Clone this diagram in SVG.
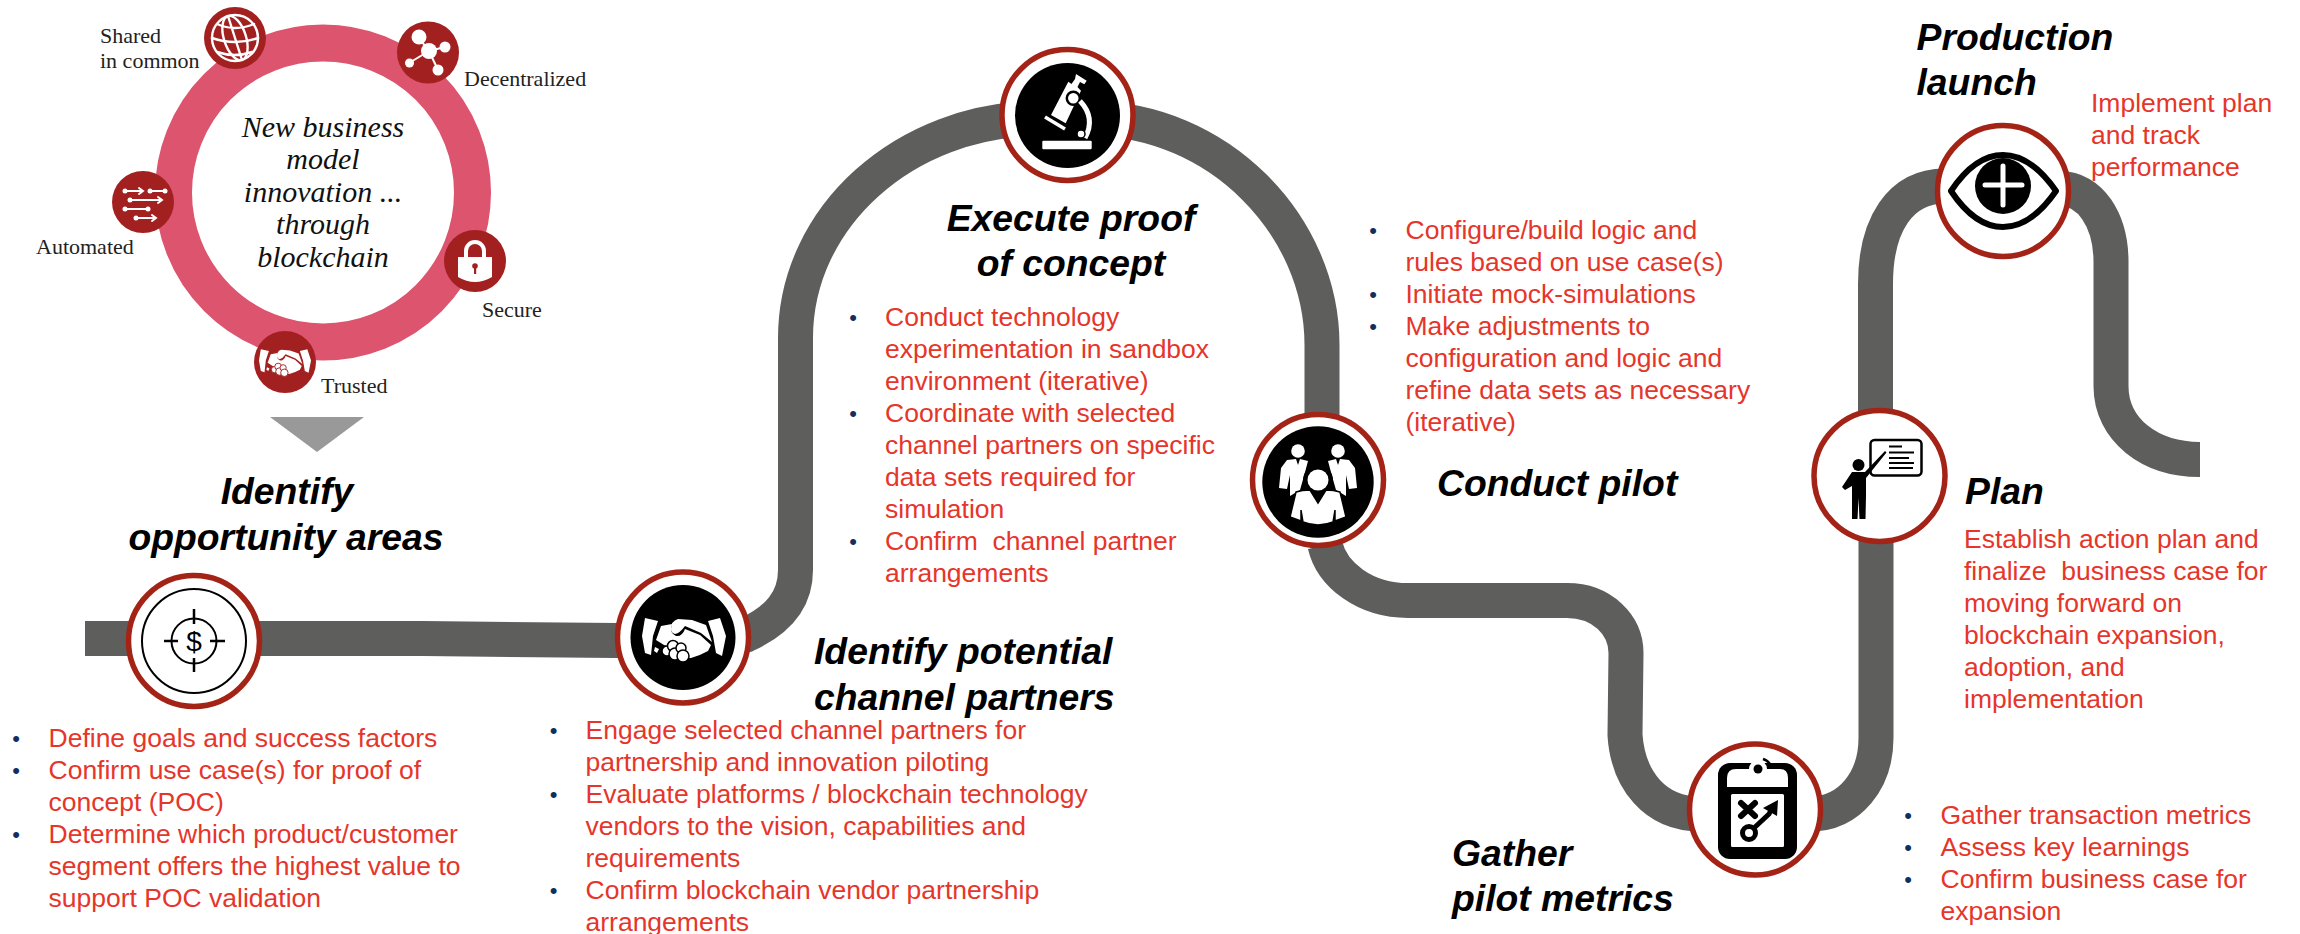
<svg xmlns="http://www.w3.org/2000/svg" xmlns:xlink="http://www.w3.org/1999/xlink" width="2300" height="934" viewBox="0 0 2300 934">
<style>
.road{fill:none;stroke:#5E5E5C;stroke-width:35}
.ring{fill:#fff;stroke:#A32417;stroke-width:5.5}
.disc{fill:#000}
.sdisc{fill:#A32020}
.t{font-family:"Liberation Sans",Arial,sans-serif;font-size:26.5px;fill:#E6352A;transform:translateY(.8px)}
.b{font-family:"Liberation Sans",Arial,sans-serif;font-size:22px;fill:#0F2F5F;text-anchor:middle}
.h{font-family:"Liberation Sans",Arial,sans-serif;font-size:37.3px;font-weight:bold;font-style:italic;fill:#000}
.m{text-anchor:middle}
.s{font-family:"Liberation Serif",Georgia,serif;font-size:22px;fill:#222}
.c{font-family:"Liberation Serif",Georgia,serif;font-size:30px;font-style:italic;fill:#111;text-anchor:middle}
.w{fill:none;stroke:#fff;stroke-linecap:round}
.k{fill:none;stroke:#000}
</style>
<defs>
<g id="shake" fill="#fff">
<path d="M-39-19L-26-16L-31-1L-33 18L-39 16L-42-1Z"/>
<path d="M24-16L36-19L42-1L38 19L32 16L29-1Z"/>
<path d="M-23-11L-12-13Q-15-4-8-1Q-2 0 1-8L16-2L27 8L24 14Q15 19 7 21L0 21L-3 13L-20 8L-28 3Z"/>
<path d="M-13-8Q-13-16-6-18L8-17L22-12L28 5L17-4L1-11Q-4-4-9-3Q-13-4-13-8Z"/>
<path d="M-29 10L-25 12L-27 16L-30 14Z"/>
<g stroke="currentColor" stroke-width="1.5">
<circle cx="-17" cy="14" r="5"/><circle cx="-11" cy="9" r="5.500"/><circle cx="-9" cy="17" r="6"/><circle cx="-3" cy="11" r="5"/><circle cx="-1" cy="19" r="6"/>
</g>
</g>
</defs>

<g id="connectors">
<path class="road" d="M85,638.5H423L617,640.5H683L747,634.5C778,620 795.5,600 795.5,570V338C795.5,217 905,118.5 1040,118.5H1090C1218,118.5 1322,225 1322,345V480"/>
<path class="road" d="M1325,545C1332,575 1365,600.5 1408,600.5H1567C1602,600.5 1626,625 1626,653L1625,735C1628,780 1655,814 1700,814"/>
<path class="road" d="M1810,814C1850,814 1876,780 1876,738V480"/>
<path class="road" d="M1875.5,415V284C1875.5,225 1900,186 1945,186"/>
<path class="road" d="M2060,188.5C2090,188.5 2111,220 2111,262V386C2111,430 2150,459.5 2200,459.5"/>
</g>

<g id="intro-ring">
<circle cx="323" cy="192.5" r="149.5" fill="#fff" stroke="#DC546D" stroke-width="37"/>
<text class="c" x="323" y="137">New business</text>
<text class="c" x="323" y="169">model</text>
<text class="c" x="323" y="202">innovation ...</text>
<text class="c" x="323" y="234">through</text>
<text class="c" x="323" y="267">blockchain</text>
</g>
<g id="shared">
<circle class="sdisc" cx="235" cy="38" r="31"/>
<g class="w" stroke-width="2.4">
<circle cx="235" cy="38" r="23"/>
<ellipse cx="235" cy="38" rx="11" ry="23" transform="rotate(-18 235 38)"/>
<path d="M217 24Q235 32 254 24M212 38Q235 46 258 38M217 52Q235 58 252 52M228 16L242 60"/>
</g>
<text class="s" x="100" y="43">Shared</text>
<text class="s" x="100" y="68">in common</text>
</g>
<g id="decentralized">
<circle class="sdisc" cx="428" cy="52.5" r="31"/>
<path class="w" stroke-width="2" d="M419 38L429 51L445 47M429 51L409 63M429 51L438 70"/>
<g fill="#fff"><circle cx="419" cy="37" r="7.5"/><circle cx="429" cy="51" r="8"/><circle cx="445" cy="47" r="5.5"/><circle cx="409.500" cy="63" r="4.500"/><circle cx="438" cy="70" r="5.500"/></g>
<text class="s" x="464" y="86">Decentralized</text>
</g>
<g id="automated">
<circle class="sdisc" cx="143" cy="202" r="31"/>
<g class="w" stroke-width="2">
<path d="M127 191H143M139 188L143 191L139 194M150 191H166"/>
<path d="M131 200H162M158 197L162 200L158 203"/>
<path d="M127 209H148"/>
<path d="M138 218H156M152 215L156 218L152 221"/>
</g>
<g fill="#fff"><circle cx="125" cy="191" r="2.500"/><circle cx="150" cy="191" r="2.500"/><circle cx="165" cy="191" r="2.500"/><circle cx="130" cy="200" r="2.500"/><circle cx="125" cy="209" r="2.500"/><circle cx="148" cy="209" r="2.500"/><circle cx="136" cy="218" r="2.500"/></g>
<text class="s" x="36" y="254">Automated</text>
</g>
<g id="secure">
<circle class="sdisc" cx="475" cy="261" r="31"/>
<path d="M466 258V251A9 9 0 0 1 484 251V258" fill="none" stroke="#fff" stroke-width="4"/>
<path fill="#fff" d="M458 257H492V277Q475 287 458 277Z"/>
<circle cx="475" cy="266" r="2.800" fill="#A32020"/><rect x="474" y="266" width="2.200" height="8" fill="#A32020"/>
<text class="s" x="482" y="317">Secure</text>
</g>
<g id="trusted">
<circle class="sdisc" cx="285" cy="362" r="31"/>
<use xlink:href="#shake" href="#shake" color="#A32020" transform="translate(285,361) scale(.62)"/>
<text class="s" x="321" y="393">Trusted</text>
</g>
<polygon id="arrow-down" points="270,417 364,417 317,452" fill="#999"/>

<g id="identify-opportunity">
<circle class="ring" cx="194" cy="641" r="65.500"/>
<g class="k" stroke-width="2"><circle cx="194" cy="641" r="52"/><circle cx="194" cy="641" r="22.500"/></g>
<path class="k" stroke-width="2.500" d="M164 641H178M210 641H225M194 609V624M194 658V672"/>
<text x="194" y="651" font-family="Liberation Sans,Arial,sans-serif" font-size="28" text-anchor="middle" fill="#000">$</text>
<text class="h m" x="287" y="504">Identify</text>
<text class="h m" x="286" y="550">opportunity areas</text>
<g>
<text class="b" x="16" y="746">•</text><text class="t" x="48.500" y="746">Define goals and success factors</text>
<text class="b" x="16" y="778">•</text><text class="t" x="48.500" y="778">Confirm use case(s) for proof of</text>
<text class="t" x="48.500" y="810">concept (POC)</text>
<text class="b" x="16" y="842">•</text><text class="t" x="48.500" y="842">Determine which product/customer</text>
<text class="t" x="48.500" y="874">segment offers the highest value to</text>
<text class="t" x="48.500" y="906">support POC validation</text>
</g>
</g>

<g id="identify-partners">
<circle class="ring" cx="683" cy="637.500" r="65.500"/>
<circle class="disc" cx="683" cy="637.500" r="52.500"/>
<use xlink:href="#shake" href="#shake" color="#000" transform="translate(684,637)"/>
<text class="h" x="814" y="664">Identify potential</text>
<text class="h" x="814" y="710">channel partners</text>
<g>
<text class="b" x="553.500" y="738">•</text><text class="t" x="585.500" y="738">Engage selected channel partners for</text>
<text class="t" x="585.500" y="770">partnership and innovation piloting</text>
<text class="b" x="553.500" y="802">•</text><text class="t" x="585.500" y="802">Evaluate platforms / blockchain technology</text>
<text class="t" x="585.500" y="834">vendors to the vision, capabilities and</text>
<text class="t" x="585.500" y="866">requirements</text>
<text class="b" x="553.500" y="898">•</text><text class="t" x="585.500" y="898">Confirm blockchain vendor partnership</text>
<text class="t" x="585.500" y="930">arrangements</text>
</g>
</g>

<g id="execute-poc">
<circle class="ring" cx="1067.500" cy="115" r="65.500"/>
<circle class="disc" cx="1067.500" cy="115.500" r="52.500"/>
<g fill="#fff">
<rect x="1042.300" y="140.700" width="49.400" height="8.600" rx="1"/>
<path d="M1076 74L1086.700 80.700L1084.300 84.300L1080 82L1077.500 87L1081 90.700L1065.700 123.300L1051 115L1068.300 81.700L1071.500 84L1075 79Z"/>
</g>
<circle cx="1073.300" cy="98.300" r="6.500" fill="#fff" stroke="#000" stroke-width="2.500"/>
<path d="M1045 117L1065 129" stroke="#fff" stroke-width="3.500" fill="none"/>
<path d="M1080 101Q1096 118 1085 138" stroke="#fff" stroke-width="5" fill="none"/>
<circle cx="1081" cy="134" r="4" fill="#fff" stroke="#000" stroke-width="1.500"/>
<text class="h m" x="1071" y="231">Execute proof</text>
<text class="h m" x="1071" y="276">of concept</text>
<g>
<text class="b" x="853" y="325">•</text><text class="t" x="885" y="325">Conduct technology</text>
<text class="t" x="885" y="357">experimentation in sandbox</text>
<text class="t" x="885" y="389">environment (iterative)</text>
<text class="b" x="853" y="421">•</text><text class="t" x="885" y="421">Coordinate with selected</text>
<text class="t" x="885" y="453">channel partners on specific</text>
<text class="t" x="885" y="485">data sets required for</text>
<text class="t" x="885" y="517">simulation</text>
<text class="b" x="853" y="549">•</text><text class="t" x="885" y="549" xml:space="preserve">Confirm  channel partner</text>
<text class="t" x="885" y="581">arrangements</text>
</g>
</g>

<g id="conduct-pilot">
<circle class="ring" cx="1318" cy="480" r="65.500"/>
<circle class="disc" cx="1318" cy="482" r="55.700"/>
<g fill="#fff">
<circle cx="1298" cy="451" r="6.800"/><circle cx="1338" cy="451" r="6.800"/>
<path d="M1287 460L1296 459L1298 465L1300 459L1308 461L1304 476L1300 490L1290 496V475L1287 489L1279 488L1281 468Z"/>
<path d="M1349 460L1340 459L1338 465L1336 459L1328 461L1332 476L1336 490L1346 496V475L1349 489L1357 488L1355 468Z"/>
</g>
<circle cx="1318" cy="480" r="15" fill="#000"/>
<circle cx="1318" cy="480" r="10.500" fill="#fff"/>
<path d="M1296 492Q1302 490 1310 490L1318 503L1326 490Q1334 490 1340 492L1346 517L1335 521V510L1333 522Q1318 528 1303 522L1301 510V521L1290 517Z" fill="#fff" stroke="#000" stroke-width="1.500"/>
<text class="h" x="1437" y="496">Conduct pilot</text>
<g>
<text class="b" x="1373" y="238">•</text><text class="t" x="1405.500" y="238">Configure/build logic and</text>
<text class="t" x="1405.500" y="270">rules based on use case(s)</text>
<text class="b" x="1373" y="302">•</text><text class="t" x="1405.500" y="302">Initiate mock-simulations</text>
<text class="b" x="1373" y="334">•</text><text class="t" x="1405.500" y="334">Make adjustments to</text>
<text class="t" x="1405.500" y="366">configuration and logic and</text>
<text class="t" x="1405.500" y="398">refine data sets as necessary</text>
<text class="t" x="1405.500" y="430">(iterative)</text>
</g>
</g>

<g id="gather-metrics">
<circle class="ring" cx="1755" cy="809.500" r="65.500"/>
<rect x="1718" y="763" width="79" height="96" rx="12" fill="#000"/>
<path d="M1727 787V778Q1727 769 1736 769H1780Q1788 769 1788 778V787Z" fill="#fff"/>
<circle cx="1758" cy="769" r="9" fill="#fff"/><circle cx="1758" cy="769" r="4.500" fill="#000"/>
<path d="M1763 759Q1769 761 1771 766" stroke="#000" stroke-width="2.500" fill="none"/>
<rect x="1731" y="794" width="53" height="53" rx="1.500" fill="#fff"/>
<path d="M1741 803L1755 816M1755 803L1741 816" stroke="#000" stroke-width="6" stroke-linecap="round" fill="none"/>
<circle cx="1749" cy="833" r="6.500" fill="none" stroke="#000" stroke-width="5"/>
<path d="M1754 828L1769 814L1772 808" stroke="#000" stroke-width="5" fill="none"/>
<path d="M1778 800L1777 816L1763 808Z" fill="#000"/>
<text class="h" x="1452" y="866">Gather</text>
<text class="h" x="1452" y="911">pilot metrics</text>
<g>
<text class="b" x="1908" y="823">•</text><text class="t" x="1940.500" y="823">Gather transaction metrics</text>
<text class="b" x="1908" y="855">•</text><text class="t" x="1940.500" y="855">Assess key learnings</text>
<text class="b" x="1908" y="887">•</text><text class="t" x="1940.500" y="887">Confirm business case for</text>
<text class="t" x="1940.500" y="919">expansion</text>
</g>
</g>

<g id="plan">
<circle class="ring" cx="1879.500" cy="476" r="65.500"/>
<rect x="1870.500" y="440" width="51" height="35.500" rx="4" fill="#fff" stroke="#000" stroke-width="2.500"/>
<path class="k" stroke-width="2" d="M1889 446.500H1902M1889 452.500H1914M1889 458H1909M1889 463H1914M1889 468H1913"/>
<circle cx="1858.500" cy="465" r="6" fill="#000"/>
<path fill="#000" d="M1852 472H1865L1885 451L1886.500 452.500L1866 478V496L1865.500 519H1859.500L1858.500 498L1857.500 519H1852L1852 486L1845 490L1842 487Z"/>
<text class="h" x="1965" y="504">Plan</text>
<g>
<text class="t" x="1964" y="547">Establish action plan and</text>
<text class="t" x="1964" y="579" xml:space="preserve">finalize  business case for</text>
<text class="t" x="1964" y="611">moving forward on</text>
<text class="t" x="1964" y="643">blockchain expansion,</text>
<text class="t" x="1964" y="675">adoption, and</text>
<text class="t" x="1964" y="707">implementation</text>
</g>
</g>

<g id="production-launch">
<circle class="ring" cx="2003" cy="191" r="65.500"/>
<path d="M1951 191Q1975 155 2003 155Q2031 155 2056 191Q2031 227 2003 227Q1975 227 1951 191Z" fill="#fff" stroke="#000" stroke-width="6" stroke-linejoin="round"/>
<circle cx="2003" cy="186" r="28" fill="#000"/>
<path d="M1985 185H2022M2003 166V205" stroke="#fff" stroke-width="5" stroke-linecap="round" fill="none"/>
<text class="h" x="1916.500" y="50">Production</text>
<text class="h" x="1916.500" y="95">launch</text>
<text class="t" x="2091" y="111">Implement plan</text>
<text class="t" x="2091" y="143">and track</text>
<text class="t" x="2091" y="175">performance</text>
</g>
</svg>
